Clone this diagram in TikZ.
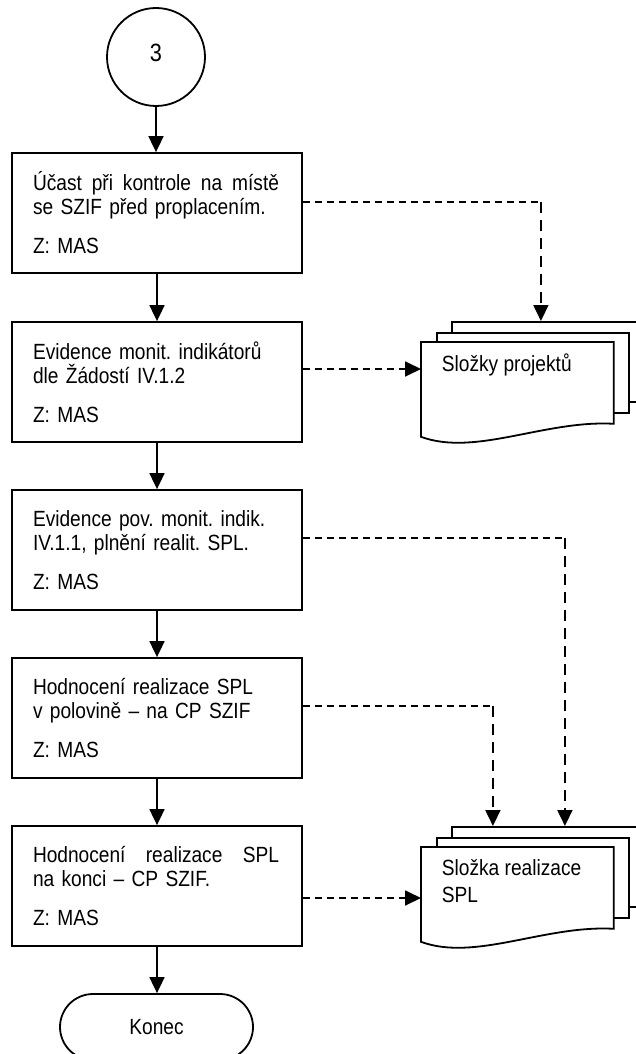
\documentclass[tikz,border=0pt]{standalone}
\usepackage{fontspec}
\setmainfont{Liberation Sans}[FakeStretch=0.87]
\usetikzlibrary{arrows.meta,calc}
\hyphenpenalty=10000
\exhyphenpenalty=10000
\begin{document}
\frenchspacing
\begin{tikzpicture}[x=1pt,y=-1pt,
  font=\fontsize{22}{24}\selectfont,
  line width=1.8pt,
  box/.style={draw, minimum width=290pt, minimum height=120pt, text width=248pt, inner xsep=20pt, align=left},
  flow/.style={-{Triangle[length=16pt,width=15pt]}},
  hdash/.style={dash pattern=on 7.5pt off 4.5pt},
  vdash/.style={dash pattern=on 11pt off 7pt},
  docpage/.style={draw, fill=white, anchor=north west, minimum height=80pt, inner sep=0pt},
  docfront/.style={anchor=north west, minimum width=191pt, minimum height=80pt, inner sep=0pt},
  doctext/.style={anchor=west, inner sep=0pt, align=left}
]
\useasboundingbox (0,0) rectangle (635,1054);

% start connector
\node[draw, circle, minimum size=98pt, inner sep=0pt, font=\fontsize{25}{28}\selectfont] (c3) at (156,57) {\raisebox{9pt}{3}};

% process boxes
\node[box] (b1) at (157,213) {\hbox to 246pt{Účast\hfill při\hfill kontrole\hfill na\hfill místě}\\ se SZIF před proplacením.\\[15pt] Z: MAS};
\node[box] (b2) at (157,382) {Evidence monit. indikátorů\\ dle Žádostí IV.1.2\\[15pt] Z: MAS};
\node[box] (b3) at (157,550) {Evidence pov. monit. indik.\\ IV.1.1, plnění realit. SPL.\\[15pt] Z: MAS};
\node[box] (b4) at (157,718) {Hodnocení realizace SPL\\ v polovině – na CP SZIF\\[15pt] Z: MAS};
\node[box] (b5) at (157,886) {\hbox to 246pt{Hodnocení\hfill realizace\hfill SPL}\\ na konci – CP SZIF.\\[15pt] Z: MAS};

% terminator
\node[draw, rounded corners=33pt, minimum width=193pt, minimum height=66pt] (end) at (156.5,1027) {Konec};

% document stack 1
\node[docpage, minimum width=199pt] (d1p3) at (451,321) {};
\node[docpage, minimum width=192pt] (d1p2) at (436,332) {};
\node[docfront] (d1) at (421,342) {};
\draw[fill=white] (d1.south east) -- (d1.north east) -- (d1.north west) -- ($(d1.south west)+(0,13)$)
  .. controls ($(d1.south west)+(54,33)$) and ($(d1.south west)+(124,-4)$) .. (d1.south east) -- cycle;
\node[doctext] (d1t) at (441,365) {Složky projektů};

% document stack 2
\node[docpage, minimum width=199pt] (d2p3) at (451,826) {};
\node[docpage, minimum width=192pt] (d2p2) at (436,837) {};
\node[docfront] (d2) at (421,847) {};
\draw[fill=white] (d2.south east) -- (d2.north east) -- (d2.north west) -- ($(d2.south west)+(0,13)$)
  .. controls ($(d2.south west)+(54,33)$) and ($(d2.south west)+(124,-4)$) .. (d2.south east) -- cycle;
\node[doctext] (d2t) at (441,881) {Složka realizace\\[3pt]SPL};

% main flow
\draw[flow] (c3.south) -- (c3.south |- b1.north);
\draw[flow] (b1.south) -- (b2.north);
\draw[flow] (b2.south) -- (b3.north);
\draw[flow] (b3.south) -- (b4.north);
\draw[flow] (b4.south) -- (b5.north);
\draw[flow] (b5.south) -- (b5.south |- end.north);

% dashed connectors
\coordinate (o1) at ([yshift=11pt]b1.east);
\coordinate (k1) at ($(o1)+(238,0)$);
\draw[hdash] (o1) -- (k1);
\draw[vdash, flow] (k1) -- (k1 |- d1p3.north);

\coordinate (o2) at ([yshift=13pt]b2.east);
\draw[hdash, flow] (o2) -- (o2 -| d1.west);

\coordinate (o3) at ([yshift=12pt]b3.east);
\coordinate (k3) at ($(o3)+(262,0)$);
\draw[hdash] (o3) -- (k3);
\draw[vdash, flow] (k3) -- (k3 |- d2p3.north);

\coordinate (o4) at ([yshift=12pt]b4.east);
\coordinate (k4) at ($(o4)+(190,0)$);
\draw[hdash] (o4) -- (k4);
\draw[vdash, flow] (k4) -- (k4 |- d2p3.north);

\coordinate (o5) at ([yshift=-12pt]b5.east);
\draw[hdash, flow] (o5) -- (o5 -| d2.west);
\end{tikzpicture}
\end{document}
